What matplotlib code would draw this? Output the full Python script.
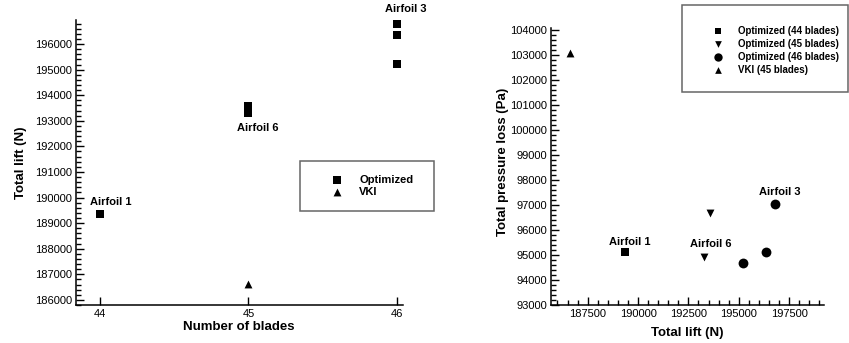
import numpy as np
import matplotlib
matplotlib.use("Agg")
import matplotlib.pyplot as plt
from matplotlib.ticker import MultipleLocator
from matplotlib.patches import Rectangle

plt.rcParams['font.family'] = ['Liberation Sans', 'DejaVu Sans']

# left chart: total lift vs number of blades
opt_blades = [44, 45, 45, 46, 46, 46]
opt_lift = [189370, 193560, 193290, 196790, 196370, 195220]
vki_blades = [45]
vki_lift = [186630]

# right chart: total pressure loss vs total lift
lift_44 = [189370]
loss_44 = [95133]
lift_45 = [193290, 193590]
loss_45 = [94930, 96700]
lift_46 = [195220, 196370, 196790]
loss_46 = [94680, 95110, 97030]
lift_vki = [186630]
loss_vki = [103100]

# labels (text, x, y, dx px, dy px)
left_labels = [("Airfoil 1", 44, 189370, 11, 12),
               ("Airfoil 6", 45, 193290, 9, -15),
               ("Airfoil 3", 46, 196790, 9, 15)]
right_labels = [("Airfoil 1", 189370, 95133, 4, 10),
                ("Airfoil 6", 193290, 94930, 6, 13),
                ("Airfoil 3", 196790, 97030, 5, 12)]

W, H = 849, 343
fig = plt.figure(figsize=(W / 100, H / 100), dpi=100)


def fbox(x0, y0, x1, y1):
    # pixel box (top-left origin) -> figure fraction rect
    return [x0 / W, 1 - y1 / H, (x1 - x0) / W, (y1 - y0) / H]


def style(ax):
    for s in ['top', 'right']:
        ax.spines[s].set_visible(False)
    for s in ['left', 'bottom']:
        ax.spines[s].set_linewidth(1.1)
    ax.tick_params(which='both', direction='in', labelsize=8, pad=3, width=1.0)
    ax.tick_params(which='major', length=6)
    ax.tick_params(which='minor', length=3.5)


ax1 = fig.add_axes(fbox(76, 20, 403, 305))
style(ax1)
ax1.scatter(opt_blades, opt_lift, marker='s', s=30, c='k', linewidths=0, label='Optimized')
ax1.scatter(vki_blades, vki_lift, marker='^', s=32, c='k', linewidths=0, label='VKI')
ax1.set_xlim(43.84, 46.04)
ax1.set_ylim(185800, 196940)
ax1.set_xticks([44, 45, 46])
ax1.yaxis.set_major_locator(MultipleLocator(1000))
ax1.yaxis.set_minor_locator(MultipleLocator(200))
ax1.set_xlabel("Number of blades", fontsize=9.5, fontweight='bold')
ax1.set_ylabel("Total lift (N)", fontsize=9.5, fontweight='bold')
ax1.xaxis.set_label_coords(0.498, -0.057)
ax1.yaxis.set_label_coords(-0.15, 0.5)
for t, x, y, dx, dy in left_labels:
    ax1.annotate(t, (x, y), xytext=(dx, dy), textcoords='offset pixels',
                 ha='center', va='center', fontsize=8, fontweight='bold',
                 annotation_clip=False)

ax2 = fig.add_axes(fbox(551, 28, 824, 305))
style(ax2)
ax2.scatter(lift_44, loss_44, marker='s', s=30, c='k', linewidths=0, label='Optimized (44 blades)')
ax2.scatter(lift_45, loss_45, marker='v', s=32, c='k', linewidths=0, label='Optimized (45 blades)')
ax2.scatter(lift_46, loss_46, marker='o', s=50, c='k', linewidths=0, label='Optimized (46 blades)')
ax2.scatter(lift_vki, loss_vki, marker='^', s=32, c='k', linewidths=0, label='VKI (45 blades)')
ax2.set_xlim(185680, 199230)
ax2.set_ylim(93000, 104080)
ax2.xaxis.set_major_locator(MultipleLocator(2500))
ax2.xaxis.set_minor_locator(MultipleLocator(500))
ax2.yaxis.set_major_locator(MultipleLocator(1000))
ax2.yaxis.set_minor_locator(MultipleLocator(200))
ax2.set_xlabel("Total lift (N)", fontsize=9.5, fontweight='bold')
ax2.set_ylabel("Total pressure loss (Pa)", fontsize=9.5, fontweight='bold')
ax2.xaxis.set_label_coords(0.5, -0.079)
ax2.yaxis.set_label_coords(-0.155, 0.517)
for t, x, y, dx, dy in right_labels:
    ax2.annotate(t, (x, y), xytext=(dx, dy), textcoords='offset pixels',
                 ha='center', va='center', fontsize=8, fontweight='bold',
                 annotation_clip=False)

# legend frames
fig.patches.append(Rectangle((300 / W, 1 - 211 / H), 134 / W, 50 / H, transform=fig.transFigure,
                             fill=False, ec='0.4', lw=1.1))
fig.patches.append(Rectangle((682 / W, 1 - 92 / H), 166 / W, 87 / H, transform=fig.transFigure,
                             fill=False, ec='0.4', lw=1.1))

leg1 = fig.legend(*ax1.get_legend_handles_labels(), loc='upper left',
                  bbox_to_anchor=(326 / W, 1 - 175 / H), frameon=False,
                  prop={'size': 8, 'weight': 'bold'}, borderpad=0, borderaxespad=0,
                  handlelength=2, handletextpad=1.0, labelspacing=0.2, markerscale=1.0)
leg2 = fig.legend(*ax2.get_legend_handles_labels(), loc='upper left',
                  bbox_to_anchor=(708 / W, 1 - 26 / H), frameon=False,
                  prop={'size': 7, 'weight': 'bold'}, borderpad=0, borderaxespad=0,
                  handlelength=2, handletextpad=1.1, labelspacing=0.3, markerscale=0.85)

fig.savefig("out.png", dpi=100)
